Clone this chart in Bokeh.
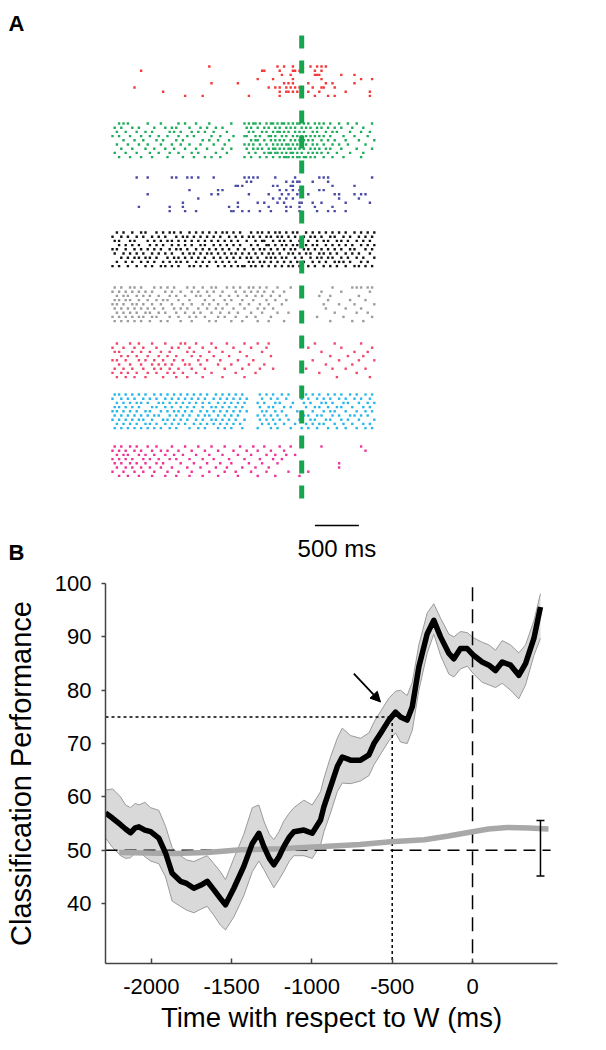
from bokeh.plotting import figure
from bokeh.models import Range1d, Arrow, NormalHead, FixedTicker
from bokeh.layouts import column
from bokeh.embed import file_html
from bokeh.resources import INLINE
from bokeh.core.properties import value

FONT = "Liberation Sans"

# ---------------- Panel A data: spike rasters ----------------
# spike positions are 25 ms bins counted from the start of the raster (-2150 ms w.r.t. W)
RASTER_START_MS = -2150
BIN_MS = 25

RED = [
    [44, 75, 78, 82, 90, 93, 95, 97],
    [13, 68, 69, 76, 82, 83, 85, 92, 95],
    [77, 81, 92, 93, 94, 104, 110],
    [66, 73, 82, 95, 113, 118],
    [45, 57, 78, 80, 82, 89, 97, 100, 110],
    [10, 71, 74, 76, 79, 81, 83, 85, 91, 95, 96, 101],
    [23, 76, 79, 80, 82, 84, 89, 94, 106, 117],
    [33, 41, 62, 76, 92, 98, 101, 117],
]
GREEN = [
    [3, 5, 7, 16, 22, 30, 33, 38, 44, 54, 60, 62, 64, 65, 67, 70, 72, 73, 75, 77, 78, 80, 82, 84, 85, 87, 89, 92, 94, 96, 99, 103, 107, 111, 118],
    [1, 4, 9, 12, 19, 24, 27, 29, 35, 40, 43, 47, 50, 61, 63, 66, 69, 71, 74, 76, 79, 81, 83, 86, 88, 90, 93, 95, 98, 101, 104, 109, 114],
    [2, 6, 11, 15, 18, 26, 28, 31, 36, 39, 42, 46, 52, 62, 64, 68, 70, 73, 75, 76, 78, 80, 83, 85, 87, 91, 93, 97, 100, 102, 108, 113, 117],
    [0, 3, 8, 13, 17, 21, 25, 30, 34, 37, 45, 49, 55, 60, 61, 65, 67, 71, 72, 74, 77, 79, 82, 84, 86, 88, 90, 92, 94, 96, 99, 105, 110, 116],
    [5, 10, 14, 20, 23, 29, 32, 41, 44, 48, 53, 63, 65, 66, 69, 72, 74, 76, 78, 81, 83, 85, 87, 89, 91, 95, 98, 101, 106, 112, 119],
    [2, 7, 12, 16, 22, 27, 31, 35, 40, 46, 51, 60, 62, 64, 67, 70, 73, 75, 77, 79, 80, 82, 84, 86, 88, 91, 93, 96, 100, 103, 107, 115],
    [4, 9, 15, 19, 24, 28, 33, 38, 43, 50, 54, 61, 64, 66, 68, 71, 73, 74, 76, 78, 80, 81, 83, 85, 87, 90, 92, 94, 97, 99, 104, 111, 118],
    [1, 6, 11, 17, 21, 26, 30, 36, 39, 47, 52, 62, 65, 69, 71, 72, 74, 75, 77, 79, 81, 82, 84, 86, 89, 91, 93, 95, 98, 102, 108, 114],
    [3, 8, 13, 18, 25, 32, 37, 42, 45, 49, 60, 63, 67, 70, 73, 76, 78, 79, 80, 82, 84, 85, 87, 88, 90, 92, 96, 100, 105, 113],
]
BLUE = [
    [11, 16, 27, 29, 34, 36, 39, 46, 60, 62, 64, 66, 74, 83, 94, 96, 98, 118],
    [61, 63, 79, 82, 84, 85, 91, 98],
    [56, 57, 59, 73, 75, 81, 82, 100, 110],
    [35, 48, 50, 76, 79, 82, 85, 94, 96],
    [16, 45, 48, 62, 71, 77, 80, 84, 89, 101, 103, 110, 113, 115],
    [39, 73, 76, 79, 82, 103, 112],
    [32, 57, 66, 69, 75, 78, 85, 86, 91, 95, 106, 117],
    [12, 26, 32, 53, 57, 71, 79, 81, 85, 92, 100],
    [26, 33, 38, 54, 55, 59, 62, 67, 72, 79, 85, 93, 98, 101, 106],
]
BLACK = [
    [2, 5, 9, 13, 15, 20, 23, 26, 28, 31, 35, 38, 41, 44, 47, 50, 52, 55, 58, 63, 66, 68, 71, 74, 76, 79, 82, 84, 88, 91, 94, 97, 100, 103, 106, 110, 113, 116, 119],
    [0, 4, 7, 11, 14, 18, 21, 24, 29, 32, 34, 37, 40, 43, 46, 49, 53, 56, 59, 62, 64, 67, 70, 72, 75, 77, 80, 83, 87, 90, 92, 95, 99, 101, 105, 108, 112, 115, 118],
    [1, 3, 8, 10, 16, 19, 22, 25, 27, 30, 33, 36, 39, 42, 45, 48, 51, 54, 57, 61, 65, 68, 69, 73, 76, 78, 81, 85, 86, 89, 93, 96, 98, 102, 104, 107, 111, 114, 117],
    [3, 6, 9, 12, 17, 20, 23, 27, 30, 33, 36, 40, 42, 46, 49, 52, 55, 58, 63, 66, 70, 71, 74, 77, 79, 82, 84, 88, 91, 93, 97, 100, 103, 106, 109, 113, 116, 119],
    [0, 2, 6, 10, 13, 16, 19, 22, 26, 29, 31, 34, 38, 41, 44, 47, 50, 53, 57, 60, 64, 67, 69, 72, 75, 78, 81, 83, 87, 89, 92, 95, 98, 101, 104, 108, 110, 115, 118],
    [1, 5, 8, 11, 14, 18, 21, 24, 27, 32, 35, 37, 40, 43, 45, 48, 51, 54, 56, 59, 62, 65, 68, 71, 73, 76, 80, 82, 85, 88, 90, 94, 96, 99, 102, 106, 109, 112, 117],
    [4, 7, 10, 12, 15, 17, 20, 25, 28, 30, 33, 36, 39, 42, 46, 49, 52, 55, 58, 61, 63, 66, 70, 72, 74, 77, 79, 83, 86, 90, 93, 95, 98, 100, 104, 107, 111, 114, 119],
    [2, 6, 9, 13, 16, 19, 23, 26, 29, 31, 34, 38, 41, 44, 47, 50, 53, 56, 62, 64, 67, 69, 72, 75, 78, 81, 84, 87, 91, 94, 97, 101, 103, 105, 108, 113, 116],
    [0, 3, 7, 11, 15, 18, 22, 24, 27, 30, 35, 37, 40, 43, 48, 51, 54, 57, 59, 60, 63, 65, 68, 71, 74, 77, 80, 82, 85, 89, 92, 96, 99, 102, 106, 110, 112, 115, 118],
]
GRAY = [
    [1, 4, 8, 10, 13, 19, 22, 25, 28, 34, 37, 41, 45, 47, 52, 55, 58, 62, 64, 67, 70, 75, 81, 100, 109, 111, 113, 116, 118],
    [0, 3, 6, 9, 12, 15, 18, 24, 27, 31, 36, 39, 43, 46, 50, 56, 60, 63, 66, 69, 73, 78, 95, 104, 117],
    [2, 5, 7, 11, 14, 17, 21, 26, 29, 33, 38, 40, 44, 49, 53, 57, 61, 65, 68, 72, 76, 94, 99, 112],
    [1, 3, 6, 8, 12, 16, 20, 23, 25, 30, 35, 42, 46, 51, 54, 59, 64, 70, 74, 79, 98, 108, 115],
    [0, 2, 5, 9, 11, 14, 18, 22, 27, 32, 36, 41, 44, 48, 52, 58, 62, 67, 71, 77, 96, 103, 110, 119],
    [1, 4, 7, 10, 13, 16, 19, 23, 28, 31, 34, 39, 43, 47, 50, 55, 60, 66, 69, 73, 97, 106, 113],
    [2, 5, 8, 11, 15, 17, 21, 24, 29, 33, 37, 40, 45, 49, 53, 57, 63, 68, 75, 80, 101, 111, 116],
    [0, 3, 6, 9, 12, 14, 18, 20, 26, 30, 35, 38, 42, 48, 51, 56, 61, 65, 72, 93, 105, 118],
    [1, 4, 7, 10, 13, 17, 22, 25, 31, 36, 44, 47, 54, 59, 66, 71, 78, 99, 109, 114],
]
ROSE = [
    [2, 8, 12, 18, 24, 31, 33, 38, 45, 52, 60, 66, 71, 92, 101, 113],
    [0, 5, 10, 14, 20, 27, 30, 35, 41, 47, 55, 63, 70, 89, 104, 118],
    [1, 3, 9, 13, 17, 22, 26, 34, 37, 44, 50, 58, 68, 95, 110, 116],
    [4, 7, 11, 16, 21, 25, 29, 36, 40, 46, 53, 61, 72, 99, 107, 114],
    [0, 2, 6, 12, 15, 19, 23, 28, 32, 39, 43, 49, 57, 64, 91, 103, 112, 119],
    [3, 8, 13, 18, 21, 24, 27, 33, 35, 40, 48, 54, 62, 69, 97, 109],
    [1, 5, 9, 14, 19, 22, 26, 30, 36, 42, 51, 59, 67, 73, 88, 100, 106, 115],
    [0, 4, 7, 11, 16, 20, 25, 28, 32, 38, 45, 56, 65, 94, 111],
    [2, 6, 10, 15, 23, 29, 34, 41, 50, 60, 102, 117],
]
CYAN = [
    [1, 3, 6, 9, 12, 15, 19, 22, 25, 28, 31, 34, 37, 40, 43, 47, 50, 53, 56, 59, 67, 70, 73, 77, 80, 88, 91, 94, 98, 101, 104, 108, 111, 115, 118],
    [0, 4, 7, 10, 14, 17, 20, 24, 27, 30, 33, 36, 39, 42, 46, 49, 52, 55, 58, 61, 68, 72, 75, 79, 86, 89, 93, 96, 99, 103, 106, 110, 113, 117],
    [2, 5, 8, 11, 13, 16, 21, 23, 26, 29, 32, 35, 38, 41, 44, 48, 51, 54, 57, 60, 66, 69, 74, 76, 82, 87, 90, 95, 97, 100, 105, 107, 112, 116, 119],
    [1, 3, 6, 9, 12, 18, 20, 24, 27, 31, 34, 37, 41, 45, 47, 50, 53, 56, 59, 67, 71, 73, 78, 81, 88, 92, 94, 98, 102, 104, 109, 114, 117],
    [0, 2, 5, 8, 11, 15, 17, 22, 25, 28, 30, 33, 36, 40, 43, 46, 49, 52, 55, 58, 61, 68, 70, 74, 77, 84, 86, 91, 96, 99, 101, 106, 111, 115, 118],
    [1, 4, 7, 10, 13, 16, 19, 21, 26, 29, 32, 35, 39, 42, 44, 48, 51, 54, 57, 66, 69, 72, 75, 79, 87, 89, 93, 95, 100, 103, 108, 110, 113, 116],
    [0, 3, 6, 9, 12, 14, 18, 23, 25, 28, 31, 34, 38, 41, 45, 47, 50, 53, 56, 60, 67, 70, 73, 76, 80, 85, 90, 92, 97, 99, 104, 107, 112, 119],
    [2, 5, 8, 11, 15, 17, 20, 24, 27, 30, 33, 37, 40, 43, 46, 49, 52, 55, 58, 68, 71, 74, 78, 83, 88, 91, 94, 96, 101, 105, 109, 114, 117],
    [1, 4, 7, 10, 13, 16, 19, 22, 26, 29, 35, 39, 42, 48, 51, 54, 59, 66, 72, 75, 81, 86, 89, 93, 98, 102, 106, 111, 115, 118],
]
MAGENTA = [
    [1, 4, 8, 11, 16, 20, 27, 33, 39, 45, 51, 58, 64, 69, 76, 81, 95, 113],
    [0, 3, 6, 10, 13, 18, 22, 25, 30, 36, 42, 48, 55, 61, 66, 72, 78, 115],
    [2, 5, 7, 12, 15, 19, 24, 28, 32, 38, 44, 50, 57, 63, 70, 74, 79, 83],
    [0, 3, 6, 9, 14, 17, 21, 26, 29, 35, 41, 46, 53, 60, 67, 73, 77],
    [1, 4, 8, 11, 15, 20, 23, 31, 37, 43, 49, 54, 62, 68, 75, 103],
    [2, 6, 9, 13, 17, 22, 27, 34, 40, 47, 52, 59, 65, 71, 103],
    [0, 5, 10, 14, 19, 25, 30, 36, 44, 51, 56, 63, 70, 80, 89],
    [3, 7, 12, 18, 24, 29, 35, 41, 48, 57, 66, 74, 85],
]
NEURONS = [RED, GREEN, BLUE, BLACK, GRAY, ROSE, CYAN, MAGENTA]
NEURON_COLORS = ["#f23a3a", "#20ad5b", "#4b4ba6", "#141414", "#9c9c9c", "#f2466b", "#27b7ea", "#ee3399"]

SCALE_BAR_START_MS = 150
SCALE_BAR_MS = 500
SCALE_BAR_TEXT = "500 ms"

# ---------------- Panel B data ----------------
TIME_MS = [-2285, -2240, -2191, -2160, -2129, -2100, -2077, -2040, -2004, -1953, -1911, -1870, -1818, -1780,
           -1735, -1690, -1652, -1610, -1570, -1538, -1486, -1424, -1371, -1330, -1299, -1265, -1237, -1205,
           -1175, -1140, -1112, -1050, -998, -946, -925, -884, -842, -811, -759, -697, -645, -614, -573, -521,
           -479, -448, -407, -375, -334, -282, -241, -199, -147, -116, -75, -33, 8, 60, 102, 143, 185, 237,
           288, 330, 382, 423]
PERF = [57.0, 56.0, 54.8, 54.0, 53.3, 54.2, 54.4, 53.8, 53.5, 52.3, 49.5, 45.7, 44.2, 43.8,
        42.9, 43.5, 44.2, 42.6, 41.0, 39.8, 42.9, 47.0, 51.3, 53.2, 50.7, 48.5, 47.3, 48.8,
        50.7, 52.5, 53.5, 53.8, 53.2, 55.7, 58.2, 61.9, 65.7, 67.5, 66.9, 66.9, 67.9, 70.0, 71.9, 74.4,
        75.9, 75.0, 74.4, 76.9, 84.4, 90.6, 93.1, 90.0, 86.9, 85.9, 87.8, 87.8, 86.5, 85.3, 84.7, 83.7, 85.3, 84.7,
        82.8, 85.0, 89.7, 95.6]
PERF_UPPER = [61.3, 61.5, 60.0, 58.5, 58.0, 58.8, 58.5, 59.0, 58.0, 57.5, 54.5, 50.5, 49.0, 48.2,
              47.9, 48.5, 49.0, 47.5, 46.0, 44.5, 48.5, 53.0, 58.0, 58.5, 55.5, 53.0, 52.0, 53.5,
              55.5, 57.0, 58.0, 59.4, 58.5, 61.0, 63.5, 67.5, 71.0, 72.9, 71.5, 71.0, 72.0, 74.0, 76.0, 78.5,
              79.8, 80.0, 79.0, 81.5, 88.5, 94.5, 96.2, 93.5, 90.5, 90.0, 91.0, 90.8, 89.8, 89.0, 88.5, 87.5, 89.3, 88.5,
              87.0, 88.5, 93.0, 98.1]
PERF_LOWER = [52.3, 50.5, 49.0, 48.5, 48.6, 49.5, 49.8, 48.8, 48.0, 47.5, 45.0, 40.5, 39.5, 38.8,
              38.3, 39.0, 39.5, 37.8, 36.0, 35.1, 37.5, 41.5, 46.0, 48.0, 46.4, 44.5, 43.0, 44.5,
              46.0, 48.0, 49.0, 49.0, 48.5, 51.0, 53.5, 57.0, 61.0, 62.6, 62.5, 63.0, 64.0, 66.0, 68.0, 70.5,
              72.0, 70.3, 70.0, 72.5, 80.0, 87.0, 90.5, 86.5, 83.0, 82.5, 84.0, 84.5, 83.0, 81.5, 81.0, 80.5, 81.3, 80.0,
              78.4, 81.0, 86.5, 89.7]
CHANCE_TIME = [-2200, -1860, -1652, -1444, -1200, -927, -700, -510, -300, -150, 0, 100, 216, 350, 473]
CHANCE_PERF = [49.6, 49.4, 49.6, 50.1, 50.3, 50.7, 51.1, 51.6, 52.0, 52.7, 53.5, 54.0, 54.3, 54.2, 54.0]
ERRBAR_TIME = 423
ERRBAR_LOW = 45.2
ERRBAR_HIGH = 55.6
CHANCE_LEVEL = 50
CHANCE_LINE_END = 486
THRESH_PERF = 75
THRESH_TIME = -500
W_TIME = 0
ARROW_FROM = (-739, 83.1)
ARROW_TO = (-573, 77.8)
X_TICKS = [-2000, -1500, -1000, -500, 0]
Y_TICKS = [40, 50, 60, 70, 80, 90, 100]
X_LABEL = "Time with respect to W (ms)"
Y_LABEL = "Classification Performance"

# ---------------- Panel A ----------------
MS_PER_PX = 500 / 44.0
RASTER_LEFT_PX = 112


def a_x(px):
    return RASTER_START_MS + (px - RASTER_LEFT_PX) * MS_PER_PX


NEURON_TOP = [66, 123, 177, 232, 287, 343, 394, 446]
TRIAL_GAP = 4.2

pa = figure(width=598, height=568, x_range=Range1d(a_x(0), a_x(598)), y_range=Range1d(560, -8),
            x_axis_location=None, y_axis_location=None, min_border=0,
            output_backend="svg", toolbar_location=None)
pa.frame_align = False
pa.grid.visible = False
pa.outline_line_color = None

xs, ys, cs = [], [], []
for k, (trials, color) in enumerate(zip(NEURONS, NEURON_COLORS)):
    for j, spikes in enumerate(trials):
        for b in spikes:
            xs.append(RASTER_START_MS + b * BIN_MS)
            ys.append(NEURON_TOP[k] - 8 + j * TRIAL_GAP)
            cs.append(color)
pa.scatter(xs, ys, marker="square", size=2.4, fill_color=cs, line_color=None)

pa.segment(x0=[0], y0=[35 - 8], x1=[0], y1=[507 - 8], line_color="#17a44f", line_width=5, line_dash="13 12")

pa.segment(x0=[SCALE_BAR_START_MS], x1=[SCALE_BAR_START_MS + SCALE_BAR_MS], y0=[525 - 8], y1=[525 - 8],
           line_color="black", line_width=1.6)
pa.text(x=[SCALE_BAR_START_MS + SCALE_BAR_MS / 2], y=[548 - 8], text=[SCALE_BAR_TEXT],
        text_font=value(FONT), text_font_size="24px", text_align="center", text_baseline="middle", text_color="black")

pa.text(x=[a_x(8)], y=[10 - 8], text=["A"], text_font=value(FONT), text_font_size="22px",
        text_font_style="bold", text_align="left", text_baseline="top", text_color="black")
pa.text(x=[a_x(8)], y=[539 - 8], text=["B"], text_font=value(FONT), text_font_size="22px",
        text_font_style="bold", text_align="left", text_baseline="top", text_color="black")

# ---------------- Panel B ----------------
X_START = -2285
pb = figure(width=598, height=474, x_range=Range1d(X_START, 529), y_range=Range1d(28.8, 100),
            min_border_left=105, min_border_right=41, min_border_top=15, min_border_bottom=79,
            output_backend="svg", toolbar_location=None)
pb.frame_align = False
pb.grid.visible = False
pb.outline_line_color = None

pb.varea(x=TIME_MS, y1=PERF_LOWER, y2=PERF_UPPER, fill_color="#d9d9d9")
pb.line(TIME_MS, PERF_UPPER, line_color="#9a9a9a", line_width=1)
pb.line(TIME_MS, PERF_LOWER, line_color="#9a9a9a", line_width=1)

pb.segment(x0=[X_START], x1=[CHANCE_LINE_END], y0=[CHANCE_LEVEL], y1=[CHANCE_LEVEL],
           line_color="black", line_width=1.5, line_dash="12 7")
pb.segment(x0=[W_TIME], x1=[W_TIME], y0=[99.3], y1=[28.8], line_color="black", line_width=1.5, line_dash="14 8")
pb.segment(x0=[X_START], x1=[THRESH_TIME], y0=[THRESH_PERF], y1=[THRESH_PERF],
           line_color="black", line_width=1.5, line_dash="3 3")
pb.segment(x0=[THRESH_TIME], x1=[THRESH_TIME], y0=[THRESH_PERF], y1=[28.8],
           line_color="black", line_width=1.5, line_dash="3 3")

pb.line(CHANCE_TIME, CHANCE_PERF, line_color="#a8a8a8", line_width=5.5)
pb.line(TIME_MS, PERF, line_color="black", line_width=5.5, line_join="round")

pb.segment(x0=[ERRBAR_TIME], x1=[ERRBAR_TIME], y0=[ERRBAR_LOW], y1=[ERRBAR_HIGH], line_color="black", line_width=1.5)
pb.scatter(x=[ERRBAR_TIME, ERRBAR_TIME], y=[ERRBAR_LOW, ERRBAR_HIGH], marker="dash", size=8,
           line_color="black", line_width=1.5)

pb.add_layout(Arrow(end=NormalHead(size=10, fill_color="black", line_color="black"),
                    x_start=ARROW_FROM[0], y_start=ARROW_FROM[1], x_end=ARROW_TO[0], y_end=ARROW_TO[1],
                    line_color="black", line_width=1.8))

xa = pb.xaxis[0]
xa.ticker = FixedTicker(ticks=X_TICKS)
xa.major_label_overrides = {t: str(t) for t in X_TICKS}
xa.major_tick_in = 5
xa.major_tick_out = 0
xa.minor_tick_line_color = None
xa.axis_line_color = "#444444"
xa.axis_line_width = 1.5
xa.major_tick_line_color = "#444444"
xa.major_tick_line_width = 1.5
xa.major_label_text_font = FONT
xa.major_label_text_font_size = "22px"
xa.major_label_text_color = "black"
xa.major_label_standoff = 15
xa.axis_label = X_LABEL
xa.axis_label_text_font = FONT
xa.axis_label_text_font_size = "27.5px"
xa.axis_label_text_font_style = "normal"
xa.axis_label_text_color = "black"
xa.axis_label_standoff = 5

ya = pb.yaxis[0]
ya.ticker = FixedTicker(ticks=Y_TICKS)
ya.major_label_overrides = {t: str(t) for t in Y_TICKS}
ya.major_tick_in = 0
ya.major_tick_out = 4
ya.minor_tick_line_color = None
ya.axis_line_color = "#444444"
ya.axis_line_width = 1.5
ya.major_tick_line_color = "#444444"
ya.major_tick_line_width = 1.5
ya.major_label_text_font = FONT
ya.major_label_text_font_size = "22px"
ya.major_label_text_color = "black"
ya.major_label_standoff = 10
ya.axis_label = Y_LABEL
ya.axis_label_text_font = FONT
ya.axis_label_text_font_size = "29px"
ya.axis_label_text_font_style = "normal"
ya.axis_label_text_color = "black"
ya.axis_label_standoff = 15

layout = column(pa, pb)
open("out.html", "w").write(file_html(layout, INLINE))
